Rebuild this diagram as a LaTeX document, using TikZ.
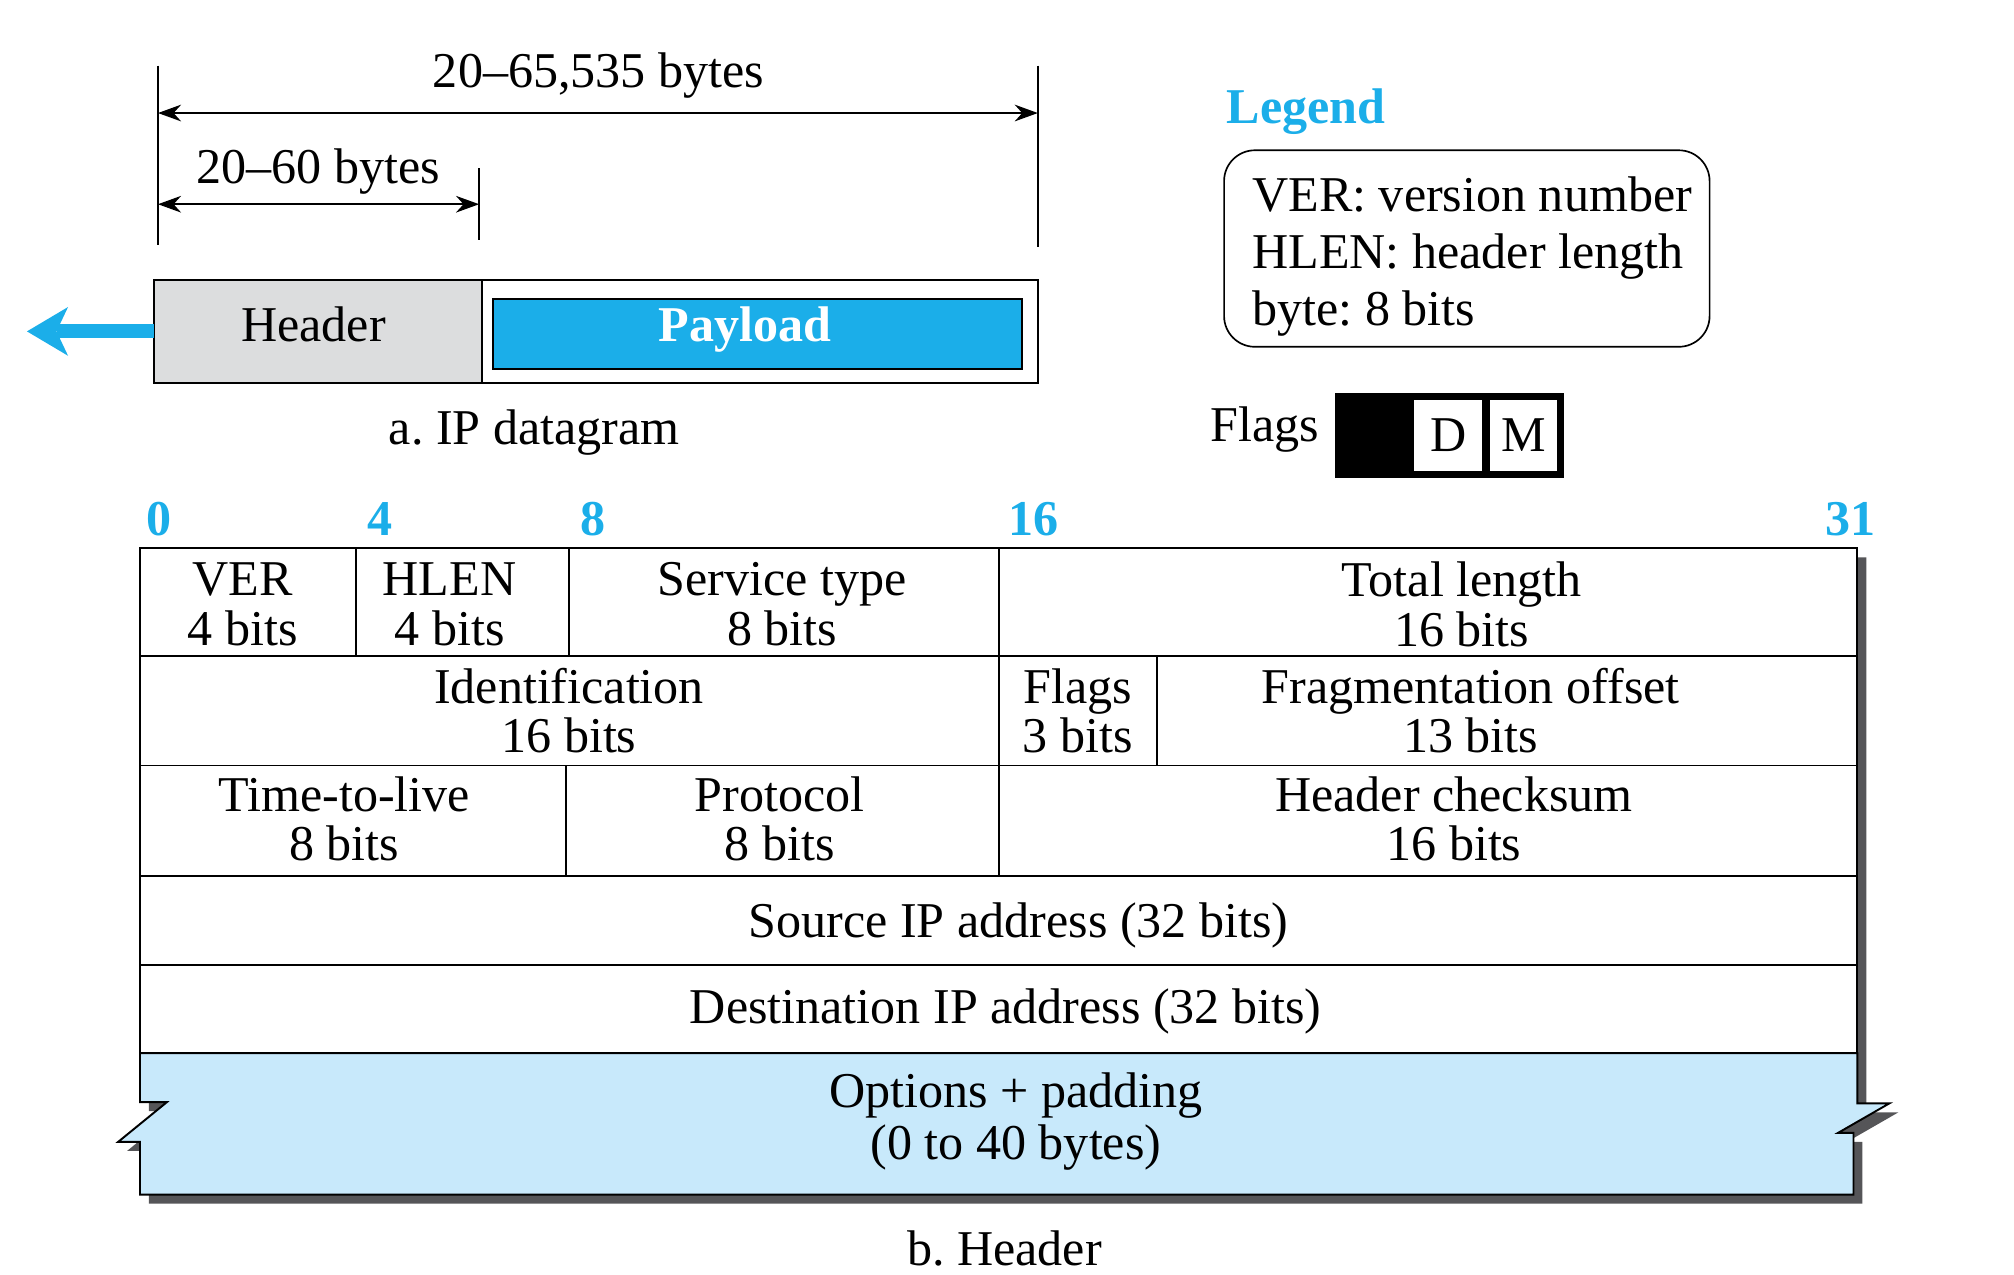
\documentclass[tikz,border=0pt]{standalone}
\usepackage{fontspec}
\setmainfont{Liberation Serif}
\usetikzlibrary{arrows.meta}
\definecolor{ipcyan}{RGB}{27,174,233}
\definecolor{iplight}{RGB}{200,233,251}
\definecolor{ipgray}{RGB}{220,221,222}
\definecolor{ipshadow}{RGB}{85,85,88}
\frenchspacing
\begin{document}
\begin{tikzpicture}[x=1pt, y=-1pt,
  every node/.style={inner sep=0pt, outer sep=0pt},
  txt/.style={font=\fontsize{39}{38.5}\selectfont},
  btxt/.style={font=\fontsize{39}{38.5}\selectfont\bfseries},
  bnum/.style={btxt, text=ipcyan, anchor=base},
  cell/.style={txt, align=center, execute at begin node=\strut, execute at end node=\strut},
  tbl/.style={line width=1.5pt, line join=miter},
  tick/.style={line width=1.2pt},
  dim/.style={line width=1.3pt, {Stealth[length=18pt,width=13pt]}-{Stealth[length=18pt,width=13pt]}},
  box/.style={draw, line width=1.4pt}
]
\useasboundingbox (0,0) rectangle (1568,992);

% ---------- a. IP datagram ----------
\coordinate (t1a) at (123,51);  \coordinate (t1b) at (123,191);
\coordinate (t2a) at (808,51);  \coordinate (t2b) at (808,192);
\coordinate (t3a) at (373,131); \coordinate (t3b) at (373,187);
\draw[tick] (t1a) -- (t1b);
\draw[tick] (t2a) -- (t2b);
\draw[tick] (t3a) -- (t3b);
\coordinate (d1a) at (123,88);  \coordinate (d1b) at (808,88);
\coordinate (d2a) at (123,159); \coordinate (d2b) at (373,159);
\draw[dim] (d1a) -- (d1b);
\draw[dim] (d2a) -- (d2b);
\node[txt, anchor=base] (lbig) at (466,68) {20--65,535 bytes};
\node[txt, anchor=base] (lsmall) at (248,143) {20--60 bytes};

\node[box, fill=ipgray, minimum width=255pt, minimum height=80pt] (hdr) at (247.5,258) {};
\node[box, minimum width=688pt, minimum height=80pt] (dg) at (464,258) {};
\node[box, fill=ipcyan, line width=1.6pt, minimum width=412pt, minimum height=54pt] (pay) at (590,260) {};
\node[txt, anchor=base] (hdrtext) at (244,266) {Header};
\node[btxt, text=white, anchor=base] (paytext) at (580,266) {Payload};
\coordinate (tip) at (21,258);
\draw[ipcyan, line width=11pt, -{Stealth[length=32pt, width=38pt, inset=9pt, line width=0pt]}] (hdr.west) -- (tip);
\node[txt, anchor=base] (capa) at (416,346) {a. IP datagram};

% ---------- legend ----------
\node[bnum] (legtitle) at (1017,96) {Legend};
\node[draw, line width=1.3pt, rounded corners=24pt, minimum width=378pt, minimum height=153pt] (legend) at (1142,193.5) {};
\node[anchor=west, align=left, font=\fontsize{39}{44.5}\selectfont,
      execute at begin node=\strut, execute at end node=\strut] (legtext) at (975,202)
  {VER: version number\\HLEN: header length\\byte: 8 bits};

% ---------- flags ----------
\node[txt, anchor=base] (flagslbl) at (985,344) {Flags};
\node[fill=black, minimum width=179pt, minimum height=66pt] (flagbox) at (1128.5,339) {};
\node[txt, fill=white, minimum width=53pt, minimum height=55pt] (fD) at (1127.5,339) {D};
\node[txt, fill=white, minimum width=52pt, minimum height=55pt] (fM) at (1186,339) {M};

% ---------- bit numbers ----------
\node[bnum] (n0) at (123.5,417) {0};
\node[bnum] (n4) at (296,417) {4};
\node[bnum] (n8) at (461.5,417) {8};
\node[bnum] (n16) at (805,417) {16};
\node[bnum] (n31) at (1441,417) {31};

% ---------- header table ----------
\fill[ipshadow, shift={(7,7)}] (109,427) -- (1446,427) -- (1446,859) -- (1471,859) -- (1431,882)
  -- (1443,882) -- (1443,930) -- (109,930) -- (109,889) -- (92,889) -- (130,858) -- (109,858) -- cycle;
\filldraw[tbl, fill=white] (109,427) rectangle (1446,820);
\filldraw[tbl, fill=iplight] (109,820) -- (1446,820) -- (1446,859) -- (1471,859) -- (1431,882)
  -- (1443,882) -- (1443,930) -- (109,930) -- (109,889) -- (92,889) -- (130,858) -- (109,858) -- cycle;
\draw[tbl] (109,511) -- (1446,511);
\draw[tbl] (109,596) -- (1446,596);
\draw[tbl] (109,682) -- (1446,682);
\draw[tbl] (109,751) -- (1446,751);
\draw[tbl] (277,427) -- (277,511);
\draw[tbl] (443,427) -- (443,511);
\draw[tbl] (778,427) -- (778,682);
\draw[tbl] (901,511) -- (901,596);
\draw[tbl] (441,596) -- (441,682);

\node[cell] (ver) at (189,476) {VER\\4 bits};
\node[cell] (hlen) at (350,476) {HLEN\\4 bits};
\node[cell] (stype) at (609,476) {Service type\\8 bits};
\node[cell] (tlen) at (1138,476) {Total length\\16 bits};
\node[cell] (ident) at (443,559) {Identification\\16 bits};
\node[cell] (flags) at (839,559) {Flags\\3 bits};
\node[cell] (frag) at (1145,559) {Fragmentation offset\\13 bits};
\node[cell] (ttl) at (268,643) {Time-to-live\\8 bits};
\node[cell] (proto) at (607,643) {Protocol\\8 bits};
\node[cell] (csum) at (1132,643) {Header checksum\\16 bits};
\node[txt, anchor=base] (src) at (793,730) {Source IP address (32 bits)};
\node[txt, anchor=base] (dst) at (783,797) {Destination IP address (32 bits)};
\node[cell, font=\fontsize{39}{40}\selectfont] (opt) at (791,875) {Options + padding\\(0 to 40 bytes)};
\node[txt, anchor=base] (capb) at (782,985) {b. Header};
\end{tikzpicture}
\end{document}
